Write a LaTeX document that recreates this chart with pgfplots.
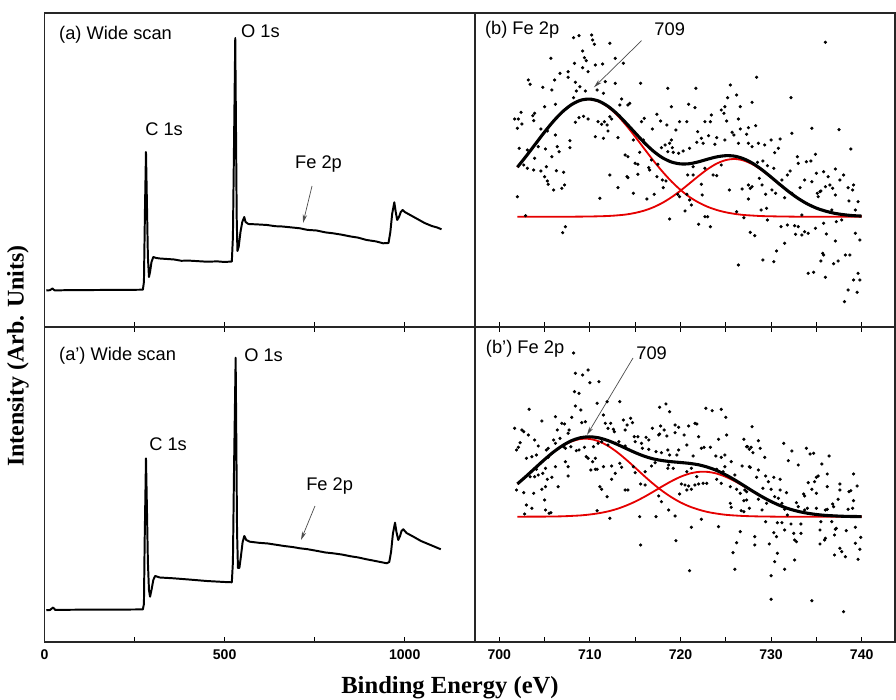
\documentclass[border=0pt]{standalone}
\usepackage{fontspec}
\setmainfont{Liberation Sans}
\newfontfamily\tnr{Liberation Serif}
\usepackage{pgfplots}
\pgfplotsset{compat=1.18}
\usetikzlibrary{arrows.meta}

\newcommand{\annot}{\fontsize{13}{15}\selectfont}
\tikzset{arr/.style={-{Stealth[length=6pt,width=3pt]}, line width=0.5pt, black!70}}
\pgfplotsset{
  panel/.style={
    scale only axis, anchor=south west,
    axis line style={line width=1pt, draw=black!85},
    ytick=\empty,
    tick align=inside,
    major tick length=0.13cm, minor tick length=0.13cm,
    every tick/.style={line width=0.8pt, black},
    /pgf/number format/assume math mode=true,
    /pgf/number format/1000 sep={},
    xticklabel style={font=\bfseries\fontsize{10}{11}\selectfont, yshift=-0.08cm},
    clip=true,
  },
  wide/.style={panel, width=10.7625cm, xmin=0, xmax=1195,
    xtick={0,500,1000}, minor xtick={250,750}},
  fe/.style={panel, width=10.5cm, xmin=697.32, xmax=743.68,
    xtick={700,710,720,730,740}, minor xtick={705,715,725,735}},
  trace/.style={black, line width=1.4pt, line join=round},
  dots/.style={only marks, mark=*, mark size=0.95pt, black},
  fitred/.style={red!90!black, line width=1.3pt, smooth},
  fitblk/.style={black, line width=2.2pt, smooth},
}

\begin{document}
\begin{tikzpicture}
\useasboundingbox (0,0) rectangle (22.4cm,17.5cm);

% ---------- (a) wide scan ----------
\begin{axis}[wide, at={(1.1125cm,9.325cm)}, height=7.85cm, ymin=0, ymax=314,
  xtick pos=bottom, xticklabels={}]
\addplot[trace] coordinates {
(5,36.5) (15,36.8) (22,38.5) (28,36.6) (60,36.8) (100,36.9) (150,37) (200,37.1)
(250,37.2) (273,37.3) (276,45) (279,120) (281.7,175) (284,130) (287,70) (290,50)
(293,55) (297,65) (302,70) (310,69) (320,68.5) (360,67.5) (380,66.2) (400,66.4)
(450,65.3) (480,65.6) (500,65) (520,65.5) (523,90) (526,180) (529.5,289)
(531.5,200) (533.5,110) (535.5,76) (539,80) (544,95) (549,105) (554.5,110)
(558,105) (566,103) (590,102.6) (618,102) (640,100.8) (660,100.5) (685,99.6)
(709,98.7) (730,97.1) (755,96.5) (780,94.6) (801,93.7) (825,92.3) (850,90.5)
(870,89.4) (894,87) (920,85.6) (940,83.7) (955,84) (960,95) (965,113) (971,124.7)
(975,115) (979,107) (984,110) (989,115) (994,117) (1000,115) (1015,112)
(1035,108) (1055,104) (1075,101) (1090,99.5) (1102,97.7)
};
\node[anchor=west, inner sep=0, font=\annot] at (axis cs:40,292) {(a) Wide scan};
\node[anchor=west, inner sep=0, font=\annot] at (axis cs:545,296) {O 1s};
\node[anchor=west, inner sep=0, font=\annot] at (axis cs:279,198) {C 1s};
\node[anchor=west, inner sep=0, font=\annot] at (axis cs:695,163) {Fe 2p};
\draw[arr] (axis cs:742.6,141) -- (axis cs:717.6,104);
\end{axis}

% ---------- (a') wide scan ----------
\begin{axis}[wide, at={(1.1125cm,1.45cm)}, height=7.875cm, ymin=0, ymax=315,
  xtick pos=both]
\addplot[trace] coordinates {
(5,31.8) (15,32) (24,34.5) (30,32) (60,32.2) (100,32.3) (150,32.3) (200,32.4)
(250,32.5) (273,32.6) (276,38) (278,100) (281.7,183.7) (284,140) (287,80)
(290,52) (293,45.3) (297,52) (302,62) (307,66) (320,64.5) (358,63.7) (400,62.5)
(450,61) (500,60) (520,59.7) (523,80) (526,170) (530.6,284.3) (532.5,200)
(534.5,110) (537,74) (541,74) (545,85) (550,100) (554.7,106) (560,102)
(570,100.3) (595,99.2) (620,98.5) (640,97.4) (665,96) (690,94.9) (709,93.7)
(730,92.8) (755,91.2) (780,89.5) (801,88.7) (825,87.5) (850,85.7) (870,84.6)
(894,82.7) (920,80.9) (950,78.7) (957,80) (962,90) (967,108) (973,119.3)
(977,110) (982,102) (987,106) (991,111) (996,112.7) (1005,109) (1024,105.3)
(1045,101) (1065,98) (1085,95) (1100,92.7)
};
\node[anchor=west, inner sep=0, font=\annot] at (axis cs:40,286) {(a') Wide scan};
\node[anchor=west, inner sep=0, font=\annot] at (axis cs:553.8,287) {O 1s};
\node[anchor=west, inner sep=0, font=\annot] at (axis cs:290,198) {C 1s};
\node[anchor=west, inner sep=0, font=\annot] at (axis cs:726,156) {Fe 2p};
\draw[arr] (axis cs:750.8,136) -- (axis cs:712,102);
\end{axis}

% ---------- (b) Fe 2p ----------
\begin{axis}[fe, at={(11.875cm,9.325cm)}, height=7.85cm, ymin=0, ymax=314,
  xtick pos=bottom, xticklabels={}]
\addplot[dots] table {
708.2 289.3
708.8 291.3
710.2 292.0
710.3 287.0
710.5 282.7
712.2 283.7
705.7 268.7
709.2 276.0
709.4 269.3
709.6 266.3
708.3 263.7
712.8 268.7
713.7 263.7
710.6 262.0
711.4 263.0
709.2 259.3
707.6 255.3
706.7 253.7
709.8 255.3
703.2 247.0
703.4 242.7
706.1 247.0
707.6 249.7
708.4 244.7
711.7 245.3
712.8 243.7
704.8 239.7
705.8 237.0
708.9 240.3
708.5 236.0
709.5 236.0
710.8 237.0
708.2 229.3
711.5 233.7
713.5 228.0
713.3 222.0
705.0 220.3
706.2 222.7
702.4 214.7
703.9 213.7
703.7 211.3
701.7 208.0
702.1 208.0
703.8 206.3
702.5 203.0
702.0 198.7
708.8 209.3
709.3 210.7
708.4 204.7
709.8 208.0
710.9 205.3
711.6 205.3
712.2 210.3
712.4 208.0
711.3 202.7
711.9 202.0
712.0 196.0
704.6 198.0
705.3 196.0
706.2 192.0
710.6 190.3
711.5 188.7
713.1 189.3
707.8 186.3
702.2 178.7
703.1 177.0
704.3 180.3
705.1 178.0
706.4 180.3
706.6 175.3
707.8 179.3
703.9 168.7
705.8 170.3
702.7 162.0
703.1 158.7
703.8 157.0
704.6 156.0
705.2 160.3
706.3 156.3
707.1 154.7
705.0 150.3
705.3 146.0
705.4 142.7
707.2 142.0
706.9 138.7
706.0 137.0
712.2 152.0
713.1 139.3
714.1 150.3
713.9 172.0
702.0 130.3
711.1 128.7
707.3 100.3
707.0 94.3
702.9 111.3
715.6 243.7
718.6 238.7
721.7 238.7
725.5 242.0
714.4 223.7
714.2 222.0
719.0 220.3
720.9 222.7
721.6 219.3
724.9 220.3
726.2 232.0
725.2 229.3
726.6 220.3
717.4 212.7
716.0 208.7
715.7 205.3
717.8 206.0
718.5 202.0
719.9 205.3
720.7 205.3
722.7 205.3
723.3 205.3
723.4 212.0
724.5 217.0
724.8 213.7
725.1 206.0
726.4 208.0
726.6 198.0
716.9 198.0
719.5 197.0
721.9 195.3
723.1 191.3
724.0 189.3
722.3 188.7
725.7 194.7
725.9 192.0
727.3 192.7
719.0 187.0
718.8 183.7
718.3 182.0
721.8 184.7
722.5 183.7
723.8 182.7
724.9 187.0
714.8 187.0
715.9 187.0
717.9 179.3
719.1 179.3
718.6 175.3
719.2 174.7
719.8 173.7
720.3 176.0
721.0 178.7
714.2 170.3
715.5 174.7
716.8 167.0
715.0 163.7
715.3 162.7
716.5 159.3
717.5 162.7
721.4 160.3
722.7 158.7
724.5 162.0
714.2 149.3
715.3 152.7
716.6 157.0
718.0 147.0
718.4 146.0
717.4 150.3
720.8 152.0
721.4 152.0
723.6 152.0
724.0 151.3
714.8 133.7
716.3 128.0
717.1 132.7
718.1 139.3
719.7 132.7
719.9 130.3
720.7 132.7
721.0 127.0
721.2 122.0
722.3 142.7
722.4 132.0
725.4 137.0
726.8 138.0
727.5 142.0
718.8 108.0
720.5 116.0
722.0 102.7
722.7 110.3
723.0 110.3
723.3 100.3
726.2 115.3
727.0 109.3
726.4 62.0
726.4 183.7
727.5 183.7
736.0 284.7
728.4 249.7
732.2 229.3
727.9 224.7
727.5 199.3
728.3 201.3
734.5 198.7
737.5 197.3
732.3 193.7
738.8 178.0
728.6 183.7
729.3 182.0
730.0 187.0
731.0 188.0
727.9 180.3
730.4 174.3
730.8 178.7
732.9 170.3
734.9 172.7
733.9 165.3
734.4 166.0
728.5 164.7
729.1 166.0
729.6 161.3
730.3 158.7
732.1 156.0
733.0 163.7
731.8 152.0
731.2 147.0
728.7 148.7
727.9 140.3
727.7 138.7
729.0 142.0
730.1 137.0
730.5 133.7
729.4 132.7
727.5 128.0
731.5 129.3
732.3 133.7
733.2 139.3
733.7 147.0
734.5 145.3
735.0 153.7
735.8 155.3
737.1 158.0
736.3 150.3
737.6 147.0
738.0 152.0
735.1 133.7
735.2 130.3
735.4 135.3
735.5 136.0
736.0 140.3
736.5 142.0
736.8 138.7
737.1 132.0
738.5 139.3
739.0 137.0
739.1 142.0
739.6 125.3
739.3 117.0
738.6 126.0
728.9 117.0
729.5 118.7
729.6 107.0
727.7 94.7
728.2 91.3
731.1 100.3
731.8 102.0
732.6 101.3
733.0 100.3
732.7 92.7
733.4 92.0
733.7 95.3
734.1 93.7
734.9 98.7
735.8 103.7
736.1 93.0
737.2 105.3
737.8 107.0
739.3 93.7
739.8 87.0
731.5 83.7
730.6 76.0
729.1 67.0
730.3 65.3
735.7 73.7
735.8 72.0
735.5 66.0
736.9 63.3
737.4 66.0
738.2 72.0
738.7 72.0
737.1 86.0
734.1 53.7
734.7 54.7
736.0 49.7
739.6 53.7
739.1 47.0
739.8 47.0
738.5 37.0
739.5 34.7
738.1 25.3
733.4 112.0
736.7 117.0
};
% fitted components
\addplot[fitred] coordinates {
(702,159.8) (703,171.2) (704,183.1) (705,195.0) (706,206.0) (707,215.4) (708,222.5)
(709,226.7) (710,227.7) (711,225.4) (712,220.0) (713,211.9) (714,201.7) (715,190.3)
(716,178.3) (717,166.5) (718,155.5) (719,145.6) (720,137.1) (721,130.0) (722,124.5)
(723,120.2) (724,117.0) (725,114.7) (726,113.1) (727,112.0) (728,111.4) (729,110.9)
(730,110.7) (731,110.5) (732,110.4) (733,110.3) (736,110.3) (740,110.3)
};
\addplot[fitred] coordinates {
(702,110.3) (705,110.3) (708,110.3) (710,110.5) (711,110.7) (712,111.0) (713,111.6)
(714,112.5) (715,114.1) (716,116.4) (717,119.7) (718,124.1) (719,129.7) (720,136.3)
(721,143.6) (722,151.0) (723,157.9) (724,163.4) (725,166.9) (726,168.0) (727,166.4)
(728,162.4) (729,156.6) (730,149.5) (731,142.1) (732,134.9) (733,128.5) (734,123.1)
(735,118.9) (736,115.9) (737,113.7) (738,112.3) (739,111.4) (740,110.9)
};
\addplot[fitblk] coordinates {
(702,159.8) (703,171.2) (704,183.1) (705,195.0) (706,206.0) (707,215.4) (708,222.5)
(709,226.8) (710,227.9) (711,225.8) (712,220.7) (713,213.2) (714,203.9) (715,194.1)
(716,184.4) (717,175.9) (718,169.3) (719,165.0) (720,163.1) (721,163.3) (722,165.2)
(723,167.8) (724,170.1) (725,171.3) (726,170.8) (727,168.1) (728,163.5) (729,157.2)
(730,149.9) (731,142.3) (732,135.0) (733,128.5) (734,123.1) (735,118.9) (736,115.9)
(737,113.7) (738,112.3) (739,111.4) (740,110.9)
};
\node[anchor=west, inner sep=0, font=\annot] at (axis cs:698.4,297) {(b) Fe 2p};
\node[anchor=west, inner sep=0, font=\annot] at (axis cs:717.1,298) {709};
\draw[arr] (axis cs:715.7,286.3) -- (axis cs:710.45,239.7);
\end{axis}

% ---------- (b') Fe 2p ----------
\begin{axis}[fe, at={(11.875cm,1.45cm)}, height=7.875cm, ymin=0, ymax=315,
  xtick pos=both]
\addplot[dots] table {
708.2 289.0
708.4 268.7
709.2 267.0
709.8 272.0
710.0 259.3
711.0 260.3
708.3 250.3
708.8 248.7
703.3 232.7
704.7 221.0
708.4 236.0
709.0 232.0
708.0 224.7
709.1 219.3
709.5 220.3
706.2 225.3
706.9 218.7
707.2 218.0
710.8 238.7
711.5 227.0
711.9 240.3
713.3 240.3
713.7 222.0
711.7 218.7
712.3 218.7
712.6 212.7
712.7 210.3
712.0 213.7
701.7 213.7
702.5 212.0
702.7 210.3
703.2 207.0
703.9 202.0
706.0 202.0
706.4 212.0
706.7 203.7
707.6 208.7
707.7 212.0
702.3 199.3
702.1 194.7
701.9 192.0
704.3 196.0
705.4 193.7
706.2 198.7
707.1 195.3
707.3 193.7
707.9 195.3
708.5 191.3
708.8 192.0
709.4 194.7
710.9 198.7
710.4 195.3
711.3 200.3
712.0 197.0
712.8 198.7
713.2 200.3
713.9 196.0
714.0 193.7
703.0 183.7
703.6 185.3
704.1 187.0
705.2 192.0
709.6 185.3
709.8 183.7
710.6 183.7
705.4 184.7
704.6 179.3
705.1 173.7
706.2 175.3
707.3 180.3
707.6 175.3
707.6 166.0
710.3 180.3
710.1 172.0
710.6 172.7
710.8 172.7
711.5 175.3
712.4 176.0
712.8 168.7
712.4 162.7
713.3 178.7
713.5 174.7
704.1 172.7
704.3 167.0
703.4 165.3
703.9 165.3
704.8 168.7
705.3 162.7
705.8 164.7
705.1 155.3
704.7 152.7
706.5 155.3
701.9 152.0
702.7 149.3
703.8 148.7
711.1 155.3
711.3 152.7
711.9 145.3
705.0 142.0
703.0 137.0
703.6 133.7
702.8 128.0
705.1 132.0
705.7 129.3
705.5 128.7
710.8 131.3
712.2 123.7
713.9 152.0
717.7 234.7
718.4 238.0
718.8 230.3
722.8 233.7
723.5 231.3
724.5 232.7
725.0 224.7
714.5 223.7
714.7 219.3
714.1 217.0
716.9 213.7
717.8 216.0
718.2 212.0
719.4 217.0
719.8 214.7
720.9 216.0
721.6 218.7
721.8 218.0
714.9 205.3
715.3 205.3
716.2 204.7
716.5 202.0
717.6 207.0
717.7 208.0
718.5 206.0
719.4 209.3
720.4 207.0
722.0 205.3
724.2 202.7
725.1 207.0
727.0 202.7
727.3 195.3
727.6 192.7
713.9 212.0
715.0 200.3
715.7 198.7
715.8 193.7
716.5 192.7
717.3 190.3
717.9 189.3
718.6 192.0
718.8 187.0
719.6 187.0
719.8 192.0
720.7 197.0
721.4 186.0
722.3 193.7
722.6 194.7
723.3 194.7
723.9 186.0
724.5 184.7
724.9 187.0
725.6 180.3
726.8 176.0
727.6 175.3
718.7 177.0
719.2 173.7
718.6 173.7
717.2 179.3
716.8 176.0
716.1 170.3
714.8 175.3
715.0 169.3
720.7 170.3
721.2 173.7
721.8 165.3
724.0 172.7
724.9 175.3
724.7 170.3
726.0 167.0
714.2 152.0
716.1 157.0
715.6 158.0
720.1 158.0
720.5 157.0
720.9 156.0
721.6 157.0
722.0 158.0
722.5 158.7
722.9 158.7
724.0 162.7
724.5 158.7
725.5 155.3
726.2 152.7
726.6 148.7
727.1 152.0
727.0 141.3
720.7 152.0
721.2 152.7
719.9 148.0
718.7 132.0
717.6 146.0
725.5 138.7
725.6 134.7
726.7 131.3
727.0 130.3
715.5 125.3
717.3 125.3
719.4 126.0
722.3 122.7
724.2 115.3
726.6 110.3
721.2 114.7
726.2 99.3
719.5 101.3
715.6 97.0
725.8 89.3
726.0 72.7
721.0 71.3
717.9 140.3
727.9 215.3
728.6 201.3
727.4 195.3
727.8 194.7
728.8 193.7
728.0 189.3
729.3 184.7
731.4 198.7
732.3 191.0
731.9 181.3
733.0 177.0
733.9 193.7
734.3 188.0
734.7 188.7
736.4 186.0
735.6 178.0
727.7 174.7
728.6 172.0
728.4 164.7
729.4 166.0
729.7 160.3
730.3 164.7
731.0 162.7
729.1 153.7
730.0 152.7
731.0 152.0
731.7 149.3
733.6 148.0
733.7 146.0
734.1 159.3
734.5 152.7
734.8 160.3
735.0 164.7
735.2 166.0
735.0 148.7
736.2 168.0
736.2 155.3
737.6 158.0
737.6 152.0
738.6 150.3
738.8 151.3
739.1 168.0
739.5 156.0
727.3 142.0
727.6 133.7
728.6 142.7
729.0 132.0
729.5 138.7
730.4 145.3
730.8 143.7
731.2 138.7
731.5 132.7
732.8 139.3
733.0 135.3
733.7 132.0
734.0 133.7
735.0 133.7
736.0 132.0
736.2 132.7
736.8 138.0
736.9 135.3
737.4 142.7
738.5 132.7
739.0 133.7
739.1 141.3
727.3 150.3
729.4 120.3
730.7 119.3
731.2 119.3
732.2 118.0
733.3 118.0
731.8 127.0
735.5 120.3
736.7 120.3
731.5 112.0
730.3 109.3
730.6 105.3
732.5 108.7
733.3 108.7
732.6 102.0
732.8 100.3
735.4 112.0
736.0 103.7
735.9 102.0
735.4 98.0
737.1 112.7
737.2 113.7
737.0 107.0
738.3 111.3
739.3 114.7
739.9 104.7
739.3 98.7
739.8 92.7
737.6 93.7
737.8 90.3
738.2 85.3
737.0 87.0
739.6 82.7
728.2 105.3
728.2 97.0
729.8 98.0
730.7 88.7
730.4 80.3
732.6 82.0
731.5 72.7
730.0 66.3
730.0 42.7
734.5 41.3
738.0 30.3
};
\addplot[fitred] coordinates {
(702,158.1) (703,166.0) (704,174.3) (705,182.4) (706,189.9) (707,196.1) (708,200.6)
(709,203.0) (710,203.0) (711,200.6) (712,196.1) (713,189.9) (714,182.4) (715,174.3)
(716,166.0) (717,158.1) (718,151.0) (719,144.8) (720,139.6) (721,135.5) (722,132.4)
(723,130.0) (724,128.4) (725,127.2) (726,126.5) (727,126.0) (728,125.7) (729,125.5)
(730,125.4) (731,125.3) (735,125.3) (740,125.3)
};
\addplot[fitred] coordinates {
(702,125.3) (705,125.4) (706,125.5) (707,125.7) (708,126.1) (709,126.6) (710,127.5)
(711,128.8) (712,130.6) (713,133.1) (714,136.4) (715,140.4) (716,145.1) (717,150.3)
(718,155.7) (719,160.8) (720,165.2) (721,168.4) (722,170.1) (723,170.1) (724,168.4)
(725,165.2) (726,160.8) (727,155.7) (728,150.3) (729,145.1) (730,140.4) (731,136.4)
(732,133.1) (733,130.6) (734,128.8) (735,127.5) (736,126.6) (737,126.1) (738,125.7)
(739,125.5) (740,125.4)
};
\addplot[fitblk] coordinates {
(702,158.1) (703,166.0) (704,174.3) (705,182.5) (706,190.1) (707,196.5) (708,201.4)
(709,204.3) (710,205.2) (711,204.1) (712,201.4) (713,197.7) (714,193.5) (715,189.4)
(716,185.8) (717,183.1) (718,181.4) (719,180.3) (720,179.5) (721,178.6) (722,177.2)
(723,174.8) (724,171.5) (725,167.1) (726,162.0) (727,156.4) (728,150.7) (729,145.3)
(730,140.5) (731,136.4) (732,133.1) (733,130.6) (734,128.8) (735,127.5) (736,126.6)
(737,126.1) (738,125.7) (739,125.5) (740,125.4)
};
\node[anchor=west, inner sep=0, font=\annot] at (axis cs:698.5,293) {(b') Fe 2p};
\node[anchor=west, inner sep=0, font=\annot] at (axis cs:715.1,289) {709};
\draw[arr] (axis cs:714.76,284) -- (axis cs:709.68,207);
\end{axis}

% shared axis titles
\node[font=\tnr\bfseries\fontsize{17.5}{20}\selectfont] at (11.25cm,0.32cm) {Binding Energy (eV)};
\node[rotate=90, font=\tnr\bfseries\fontsize{17}{20}\selectfont] at (0.45cm,8.6cm) {Intensity (Arb. Units)};
\end{tikzpicture}
\end{document}
